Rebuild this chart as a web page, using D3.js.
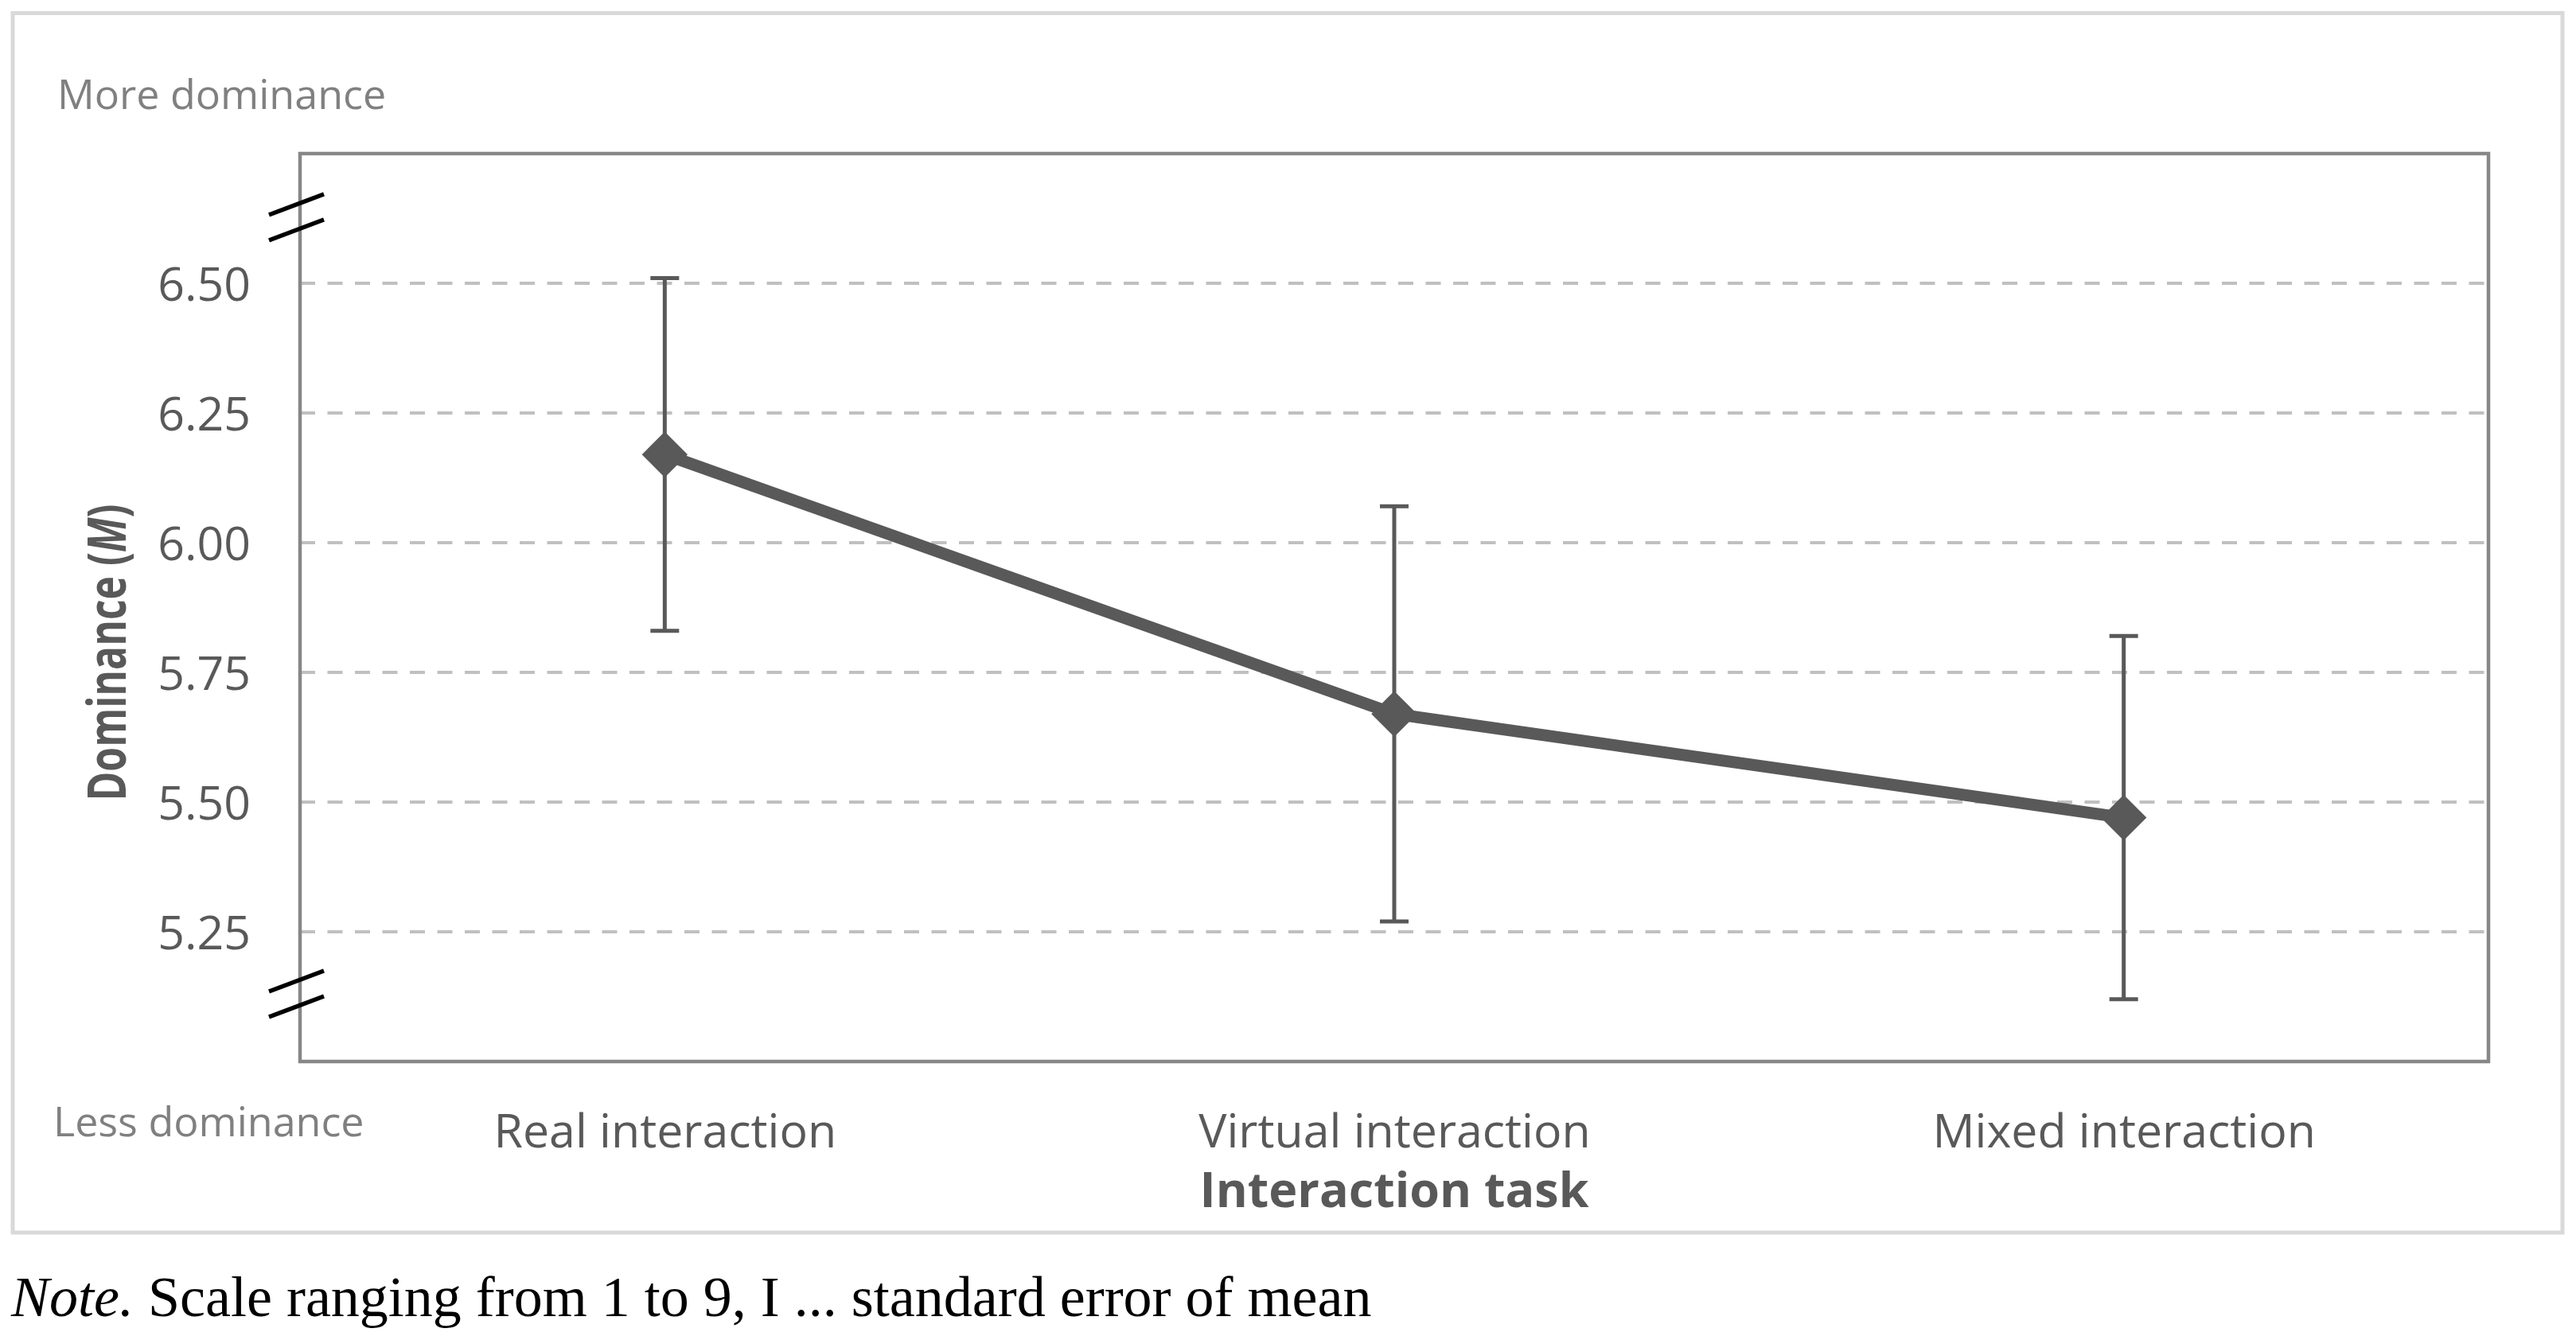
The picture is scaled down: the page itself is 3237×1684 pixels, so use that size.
<!DOCTYPE html>
<html>
<head>
<meta charset="utf-8">
<script src="https://cdn.jsdelivr.net/npm/d3@7"></script>
<style>
  body { margin: 0; background: #fff; }
  svg { display: block; }
  .tick-label { font-family: "Open Sans", sans-serif; fill: #595959; }
  .hint { font-family: "Open Sans", sans-serif; fill: #808080; font-size: 52px; }
</style>
</head>
<body>
<script>
// data
const categories = ["Real interaction", "Virtual interaction", "Mixed interaction"];
const means = [6.17, 5.67, 5.47];
const stdErrors = [0.34, 0.40, 0.35];
const yTicks = [5.25, 5.5, 5.75, 6.0, 6.25, 6.5];
const yDomain = [5.0, 6.75];

const width = 3237;
const height = 1684;
const plot = { left: 377, top: 193, right: 3127, bottom: 1334 };
const ink = "#595959";

const svg = d3
  .select("body")
  .append("svg")
  .attr("width", width)
  .attr("height", height);

svg.append("rect").attr("width", width).attr("height", height).attr("fill", "#fff");

// outer chart frame
svg
  .append("rect")
  .attr("x", 16)
  .attr("y", 16.5)
  .attr("width", 3220 - 16)
  .attr("height", 1549 - 16.5)
  .attr("fill", "none")
  .attr("stroke", "#d9d9d9")
  .attr("stroke-width", 5);

const x = d3
  .scalePoint()
  .domain(categories)
  .range([plot.left, plot.right])
  .padding(0.5);

const y = d3.scaleLinear().domain(yDomain).range([plot.bottom, plot.top]);

// gridlines
svg
  .append("g")
  .selectAll("line")
  .data(yTicks)
  .join("line")
  .attr("x1", plot.left)
  .attr("x2", plot.right)
  .attr("y1", (d) => y(d))
  .attr("y2", (d) => y(d))
  .attr("stroke", "#c0c0c0")
  .attr("stroke-width", 4)
  .attr("stroke-dasharray", "19,15.5");

// plot border
svg
  .append("rect")
  .attr("x", plot.left)
  .attr("y", plot.top)
  .attr("width", plot.right - plot.left)
  .attr("height", plot.bottom - plot.top)
  .attr("fill", "none")
  .attr("stroke", "#878787")
  .attr("stroke-width", 4.5);

// y axis labels
const yAxis = d3
  .axisLeft(y)
  .tickValues(yTicks)
  .tickFormat(d3.format(".2f"))
  .tickSize(0)
  .tickPadding(62);

svg
  .append("g")
  .attr("transform", `translate(${plot.left},0)`)
  .call(yAxis)
  .call((g) => g.select(".domain").remove())
  .call((g) =>
    g
      .selectAll("text")
      .attr("class", "tick-label")
      .attr("font-size", 59)
      .attr("dy", "0.36em")
  );

// x axis labels
const xAxis = d3.axisBottom(x).tickSize(0);

svg
  .append("g")
  .attr("transform", `translate(0,${plot.bottom})`)
  .call(xAxis)
  .call((g) => g.select(".domain").remove())
  .call((g) =>
    g
      .selectAll("text")
      .attr("class", "tick-label")
      .attr("font-size", 59)
      .attr("y", 108)
      .attr("dy", null)
  );

// axis break marks
const breakMark = (cy) => {
  [-16, 16].forEach((off) => {
    svg
      .append("line")
      .attr("x1", plot.left - 39)
      .attr("x2", plot.left + 30)
      .attr("y1", cy + off + 14)
      .attr("y2", cy + off - 12)
      .attr("stroke", "#000")
      .attr("stroke-width", 5.5);
  });
};
breakMark(plot.top + 79);
breakMark(plot.bottom - 86);

// error bars
const bars = svg
  .append("g")
  .selectAll("g")
  .data(categories)
  .join("g")
  .attr("stroke", ink)
  .attr("stroke-width", 5);

bars
  .append("line")
  .attr("x1", (d) => x(d))
  .attr("x2", (d) => x(d))
  .attr("y1", (d, i) => y(means[i] + stdErrors[i]))
  .attr("y2", (d, i) => y(means[i] - stdErrors[i]));

[1, -1].forEach((sign) => {
  bars
    .append("line")
    .attr("x1", (d) => x(d) - 18)
    .attr("x2", (d) => x(d) + 18)
    .attr("y1", (d, i) => y(means[i] + sign * stdErrors[i]))
    .attr("y2", (d, i) => y(means[i] + sign * stdErrors[i]));
});

// mean line
const line = d3
  .line()
  .x((d) => x(d))
  .y((d, i) => y(means[i]));

svg
  .append("path")
  .datum(categories)
  .attr("d", line)
  .attr("fill", "none")
  .attr("stroke", ink)
  .attr("stroke-width", 15)
  .attr("stroke-linejoin", "round");

// diamond markers
svg
  .append("g")
  .selectAll("path")
  .data(categories)
  .join("path")
  .attr("d", d3.symbol(d3.symbolSquare, 1650))
  .attr("transform", (d, i) => `translate(${x(d)},${y(means[i])}) rotate(45)`)
  .attr("fill", ink);

// axis titles
const yTitle = svg
  .append("text")
  .attr("transform", "translate(158,820) rotate(-90)")
  .attr("text-anchor", "middle")
  .attr("font-family", "Open Sans, sans-serif")
  .attr("font-weight", "bold")
  .attr("font-size", 66)
  .attr("fill", ink)
  .attr("textLength", 373)
  .attr("lengthAdjust", "spacingAndGlyphs");
yTitle.append("tspan").text("Dominance (");
yTitle.append("tspan").attr("font-style", "italic").text("M");
yTitle.append("tspan").text(")");

svg
  .append("text")
  .attr("x", x(categories[1]))
  .attr("y", 1517)
  .attr("text-anchor", "middle")
  .attr("font-family", "Open Sans, sans-serif")
  .attr("font-weight", "bold")
  .attr("font-size", 61)
  .attr("fill", ink)
  .text("Interaction task");

// direction hints
svg.append("text").attr("class", "hint").attr("x", 72).attr("y", 137).text("More dominance");
svg.append("text").attr("class", "hint").attr("x", 67).attr("y", 1428).text("Less dominance");

// note below the chart
const note = svg
  .append("text")
  .attr("x", 14)
  .attr("y", 1654)
  .attr("font-family", "Liberation Serif, serif")
  .attr("font-size", 72)
  .attr("fill", "#000");
note.append("tspan").attr("font-style", "italic").text("Note.");
note.append("tspan").text(" Scale ranging from 1 to 9, I ... standard error of mean");
</script>
</body>
</html>
